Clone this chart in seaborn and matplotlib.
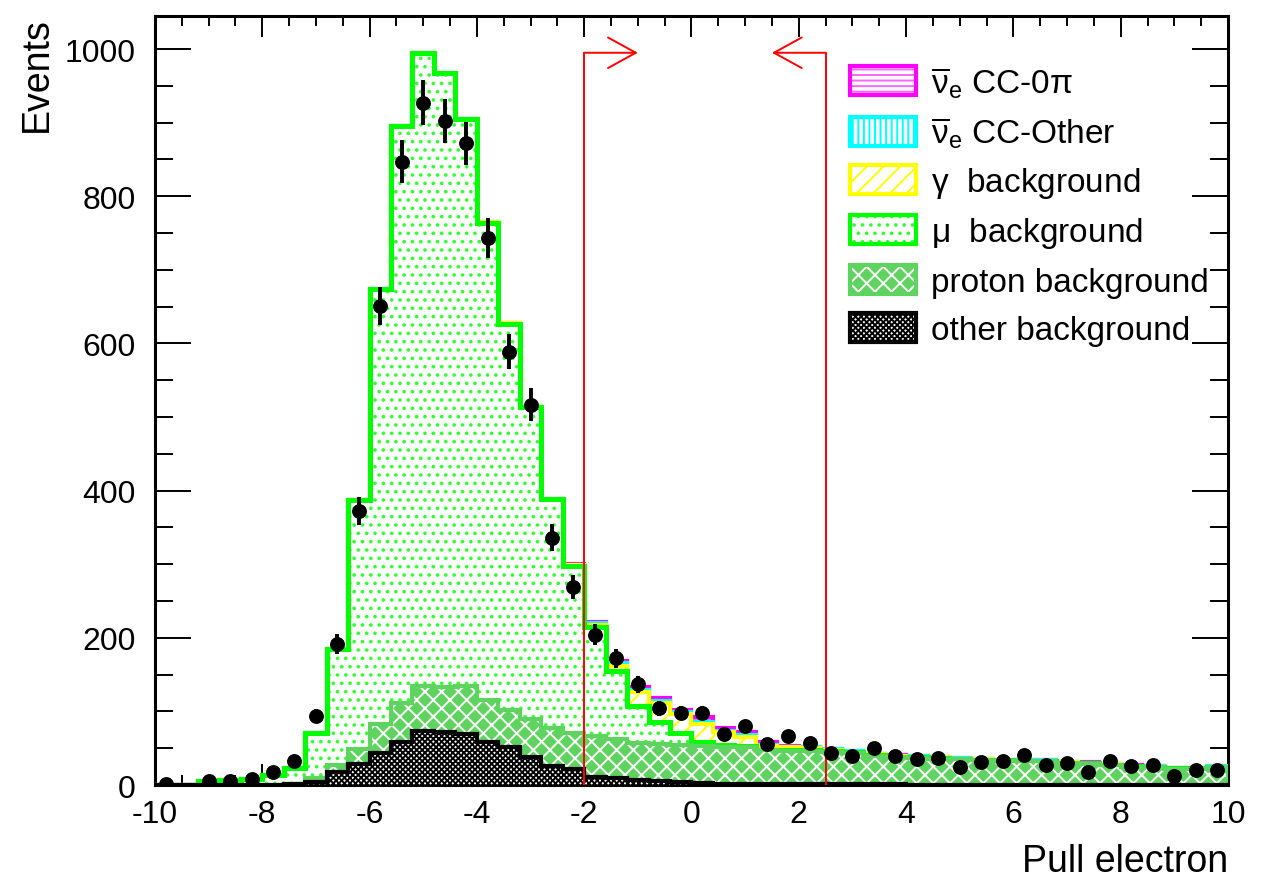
import numpy as np
import matplotlib
matplotlib.use("Agg")
import matplotlib.pyplot as plt
import seaborn as sns
from matplotlib.patches import Patch
from matplotlib.legend_handler import HandlerTuple

# ---------------- data ----------------
x_min, x_max, n_bins = -10.0, 10.0, 50
y_max = 1045

data_counts = [2, 0, 5, 5, 8, 18, 32, 94, 192, 372,
               651, 847, 927, 902, 872, 743, 589, 517, 336, 269,
               204, 172, 137, 104, 98, 98, 69, 80, 56, 66,
               57, 43, 40, 50, 39, 35, 37, 25, 31, 32,
               41, 27, 30, 18, 33, 26, 27, 12, 20, 20]

other_bkg = [0, 0, 0, 0, 0, 0.5, 1, 4, 18, 28,
             44, 59, 74, 72, 69, 58, 52, 38, 26, 22,
             11, 9, 7, 5, 4, 3, 2, 2, 1.5, 1.5,
             1, 1, 1, 1, 1, 0.5, 0.5, 0.5, 0.5, 0.5,
             0.5, 0.5, 0.5, 0.5, 0.5, 0.5, 0.5, 0.5, 0.5, 0.5]

proton_bkg = [0, 0, 0, 0, 0, 0, 1, 6, 9, 21,
              39, 52, 61, 61, 65, 58, 50, 52, 52, 48,
              55, 54, 50, 51, 50, 50, 50, 49, 45.5, 44.5,
              45, 44, 43, 39, 37, 36.5, 35.5, 34.5, 33.5, 32.5,
              31.5, 31.5, 29.5, 28.5, 26.5, 24.5, 23.5, 21.5, 21.5, 23.5]

mu_bkg = [0, 0, 5, 7, 8.5, 13.5, 21, 60, 158, 338,
          591, 784, 860, 834, 771, 648, 525, 423, 310, 228,
          149, 92, 51, 30, 17, 6, 2, 2, 1, 2,
          1, 1, 0.5, 0.5, 0.5, 0.5, 0.5, 0.5, 0.5, 0.5,
          0.5, 0.5, 0.5, 0.5, 0.5, 0.5, 0.5, 0.5, 0.5, 0.5]

gamma_bkg = [0, 0, 0, 0, 0, 0, 0, 0, 0, 0,
             0, 0, 0, 0, 0, 0.5, 0.5, 0.5, 0.5, 1,
             3, 7, 18, 25, 26, 24, 17.5, 12, 5, 3,
             3, 2, 1, 1, 1, 1, 1, 0.5, 0.5, 0.5,
             0.5, 0.5, 0.5, 0.5, 0.5, 0.5, 0.5, 0.5, 0.5, 0.5]

cc_other = [0, 0, 0, 0, 0, 0, 0, 0, 0, 0,
            0, 0, 0, 0, 0, 0, 0, 0, 0.3, 0.5,
            2, 3.5, 3, 3, 2, 3, 2.5, 3, 2, 1,
            1, 0.5, 0.3, 0.3, 0.3, 0.3, 0.3, 0.3, 0.3, 0.3,
            0.3, 0.3, 0.3, 0.3, 0.3, 0.3, 0.3, 0.3, 0.3, 0.3]

cc_0pi = [0, 0, 0, 0, 0, 0, 0, 0, 0, 0,
          0, 0, 0, 0, 0, 0, 0, 0, 0.3, 0.5,
          2, 2.5, 4.5, 4, 3, 6, 4, 4, 3, 1,
          1, 0.5, 0.3, 0.3, 0.3, 0.3, 0.3, 0.3, 0.3, 0.3,
          0.3, 0.3, 0.3, 0.3, 0.3, 0.3, 0.3, 0.3, 0.3, 0.3]

labels = [r"$\overline{\nu}_{\mathrm{e}}$ CC-0$\pi$",
          r"$\overline{\nu}_{\mathrm{e}}$ CC-Other",
          r"$\gamma$  background",
          r"$\mu$  background",
          "proton background",
          "other background"]

cut_low, cut_high = -2.0, 2.5
arrow_len = 1.0
arrow_y = 995

# ---------------- style ----------------
sns.set_theme(style="ticks")
plt.rcParams["font.family"] = ["Liberation Sans", "DejaVu Sans"]
plt.rcParams["mathtext.fontset"] = "custom"
plt.rcParams["mathtext.rm"] = "Liberation Sans"
plt.rcParams["mathtext.it"] = "Liberation Sans"
plt.rcParams["mathtext.bf"] = "Liberation Sans:bold"
plt.rcParams["axes.unicode_minus"] = False
plt.rcParams["hatch.linewidth"] = 1.4
plt.rcParams["text.color"] = "black"
plt.rcParams["axes.labelcolor"] = "black"
plt.rcParams["xtick.color"] = "black"
plt.rcParams["ytick.color"] = "black"

edges = np.linspace(x_min, x_max, n_bins + 1)
centers = 0.5 * (edges[:-1] + edges[1:])

# component order bottom -> top
comps = [np.array(other_bkg), np.array(proton_bkg), np.array(mu_bkg),
         np.array(gamma_bkg), np.array(cc_other), np.array(cc_0pi)]
cum = np.cumsum(np.vstack(comps), axis=0)

# styles bottom -> top: (facecolor, hatchcolor, hatch, outline, lw)
styles = [
    ("white", "black", "xxxxxx", "black", 3.0),
    ("#5fd35f", "white", "xx", "#5fd35f", 3.0),
    ("white", "#33ff33", "..", "#00ff00", 3.6),
    ("white", "#ffff00", "//", "#ffff00", 3.0),
    ("white", "#00ffff", "|||", "#00ffff", 3.0),
    ("white", "#ff66ff", "---", "#ff00ff", 3.0),
]

fig = plt.figure(figsize=(12.64, 8.79), dpi=100)
ax = fig.add_axes([0.1226, 0.1058, 0.8489, 0.8749])

# draw from top of the stack down (ROOT THStack style)
z = 2
for k in range(len(comps) - 1, -1, -1):
    fc, hc, hatch, oc, lw = styles[k]
    ax.stairs(cum[k], edges, baseline=0, fill=True, facecolor=fc,
              edgecolor=hc, hatch=hatch, linewidth=0, zorder=z)
    ax.stairs(cum[k], edges, baseline=0, fill=False, color=oc,
              linewidth=lw, zorder=z + 0.5)
    z += 1

# cut lines and arrows
for cut, direction in [(cut_low, 1), (cut_high, -1)]:
    ax.plot([cut, cut], [0, arrow_y], color="red", lw=1.4, zorder=20)
    ax.annotate("", xy=(cut + direction * arrow_len, arrow_y), xytext=(cut, arrow_y),
                arrowprops=dict(arrowstyle="->,head_length=1.0,head_width=0.55",
                                color="red", lw=1.4, shrinkA=0, shrinkB=0,
                                mutation_scale=20), zorder=20)

# data points
dc = np.array(data_counts, dtype=float)
mask = dc > 0
ax.errorbar(centers[mask], dc[mask], yerr=np.sqrt(dc[mask]), fmt="none",
            ecolor="black", elinewidth=2.8, capsize=0, zorder=30)
sns.scatterplot(x=centers[mask], y=dc[mask], color="black", s=115,
                edgecolor="black", linewidth=0, ax=ax, zorder=31, legend=False)

# axes
ax.set_xlim(x_min, x_max)
ax.set_ylim(0, y_max)
ax.set_xticks(np.arange(-10, 11, 2))
ax.set_xticks(np.arange(-10, 10.01, 0.5), minor=True)
ax.set_yticks(np.arange(0, 1001, 200))
ax.set_yticks(np.arange(0, 1041, 50), minor=True)
ax.tick_params(direction="in", top=True, right=True, which="both",
               colors="black", width=1.4, labelsize=23)
ax.tick_params(axis="x", which="major", length=15, pad=10)
ax.tick_params(axis="x", which="minor", length=7.5)
ax.tick_params(axis="y", which="major", length=26, pad=14)
ax.tick_params(axis="y", which="minor", length=13)
for sp in ax.spines.values():
    sp.set_linewidth(2.2)
    sp.set_color("black")

ax.set_xlabel("Pull electron", fontsize=27, loc="right", color="black")
ax.set_ylabel("Events", fontsize=27, loc="top", color="black")
ax.xaxis.set_label_coords(1.0, -0.075)
ax.yaxis.set_label_coords(-0.093, 1.0)

# legend
handles = []
for k in range(len(comps) - 1, -1, -1):
    fc, hc, hatch, oc, lw = styles[k]
    handles.append((Patch(facecolor=fc, edgecolor=hc, hatch=hatch, linewidth=0),
                    Patch(facecolor="none", edgecolor=oc, linewidth=3.0)))
leg = ax.legend(handles, labels, handler_map={tuple: HandlerTuple(ndivide=1)},
                loc="upper left", bbox_to_anchor=(0.635, 0.955), frameon=False,
                fontsize=24, handlelength=2.0, handleheight=0.95,
                handletextpad=0.45, labelspacing=0.45, borderaxespad=0,
                labelcolor="black")
leg.set_zorder(40)

fig.savefig("out.png", dpi=100)
